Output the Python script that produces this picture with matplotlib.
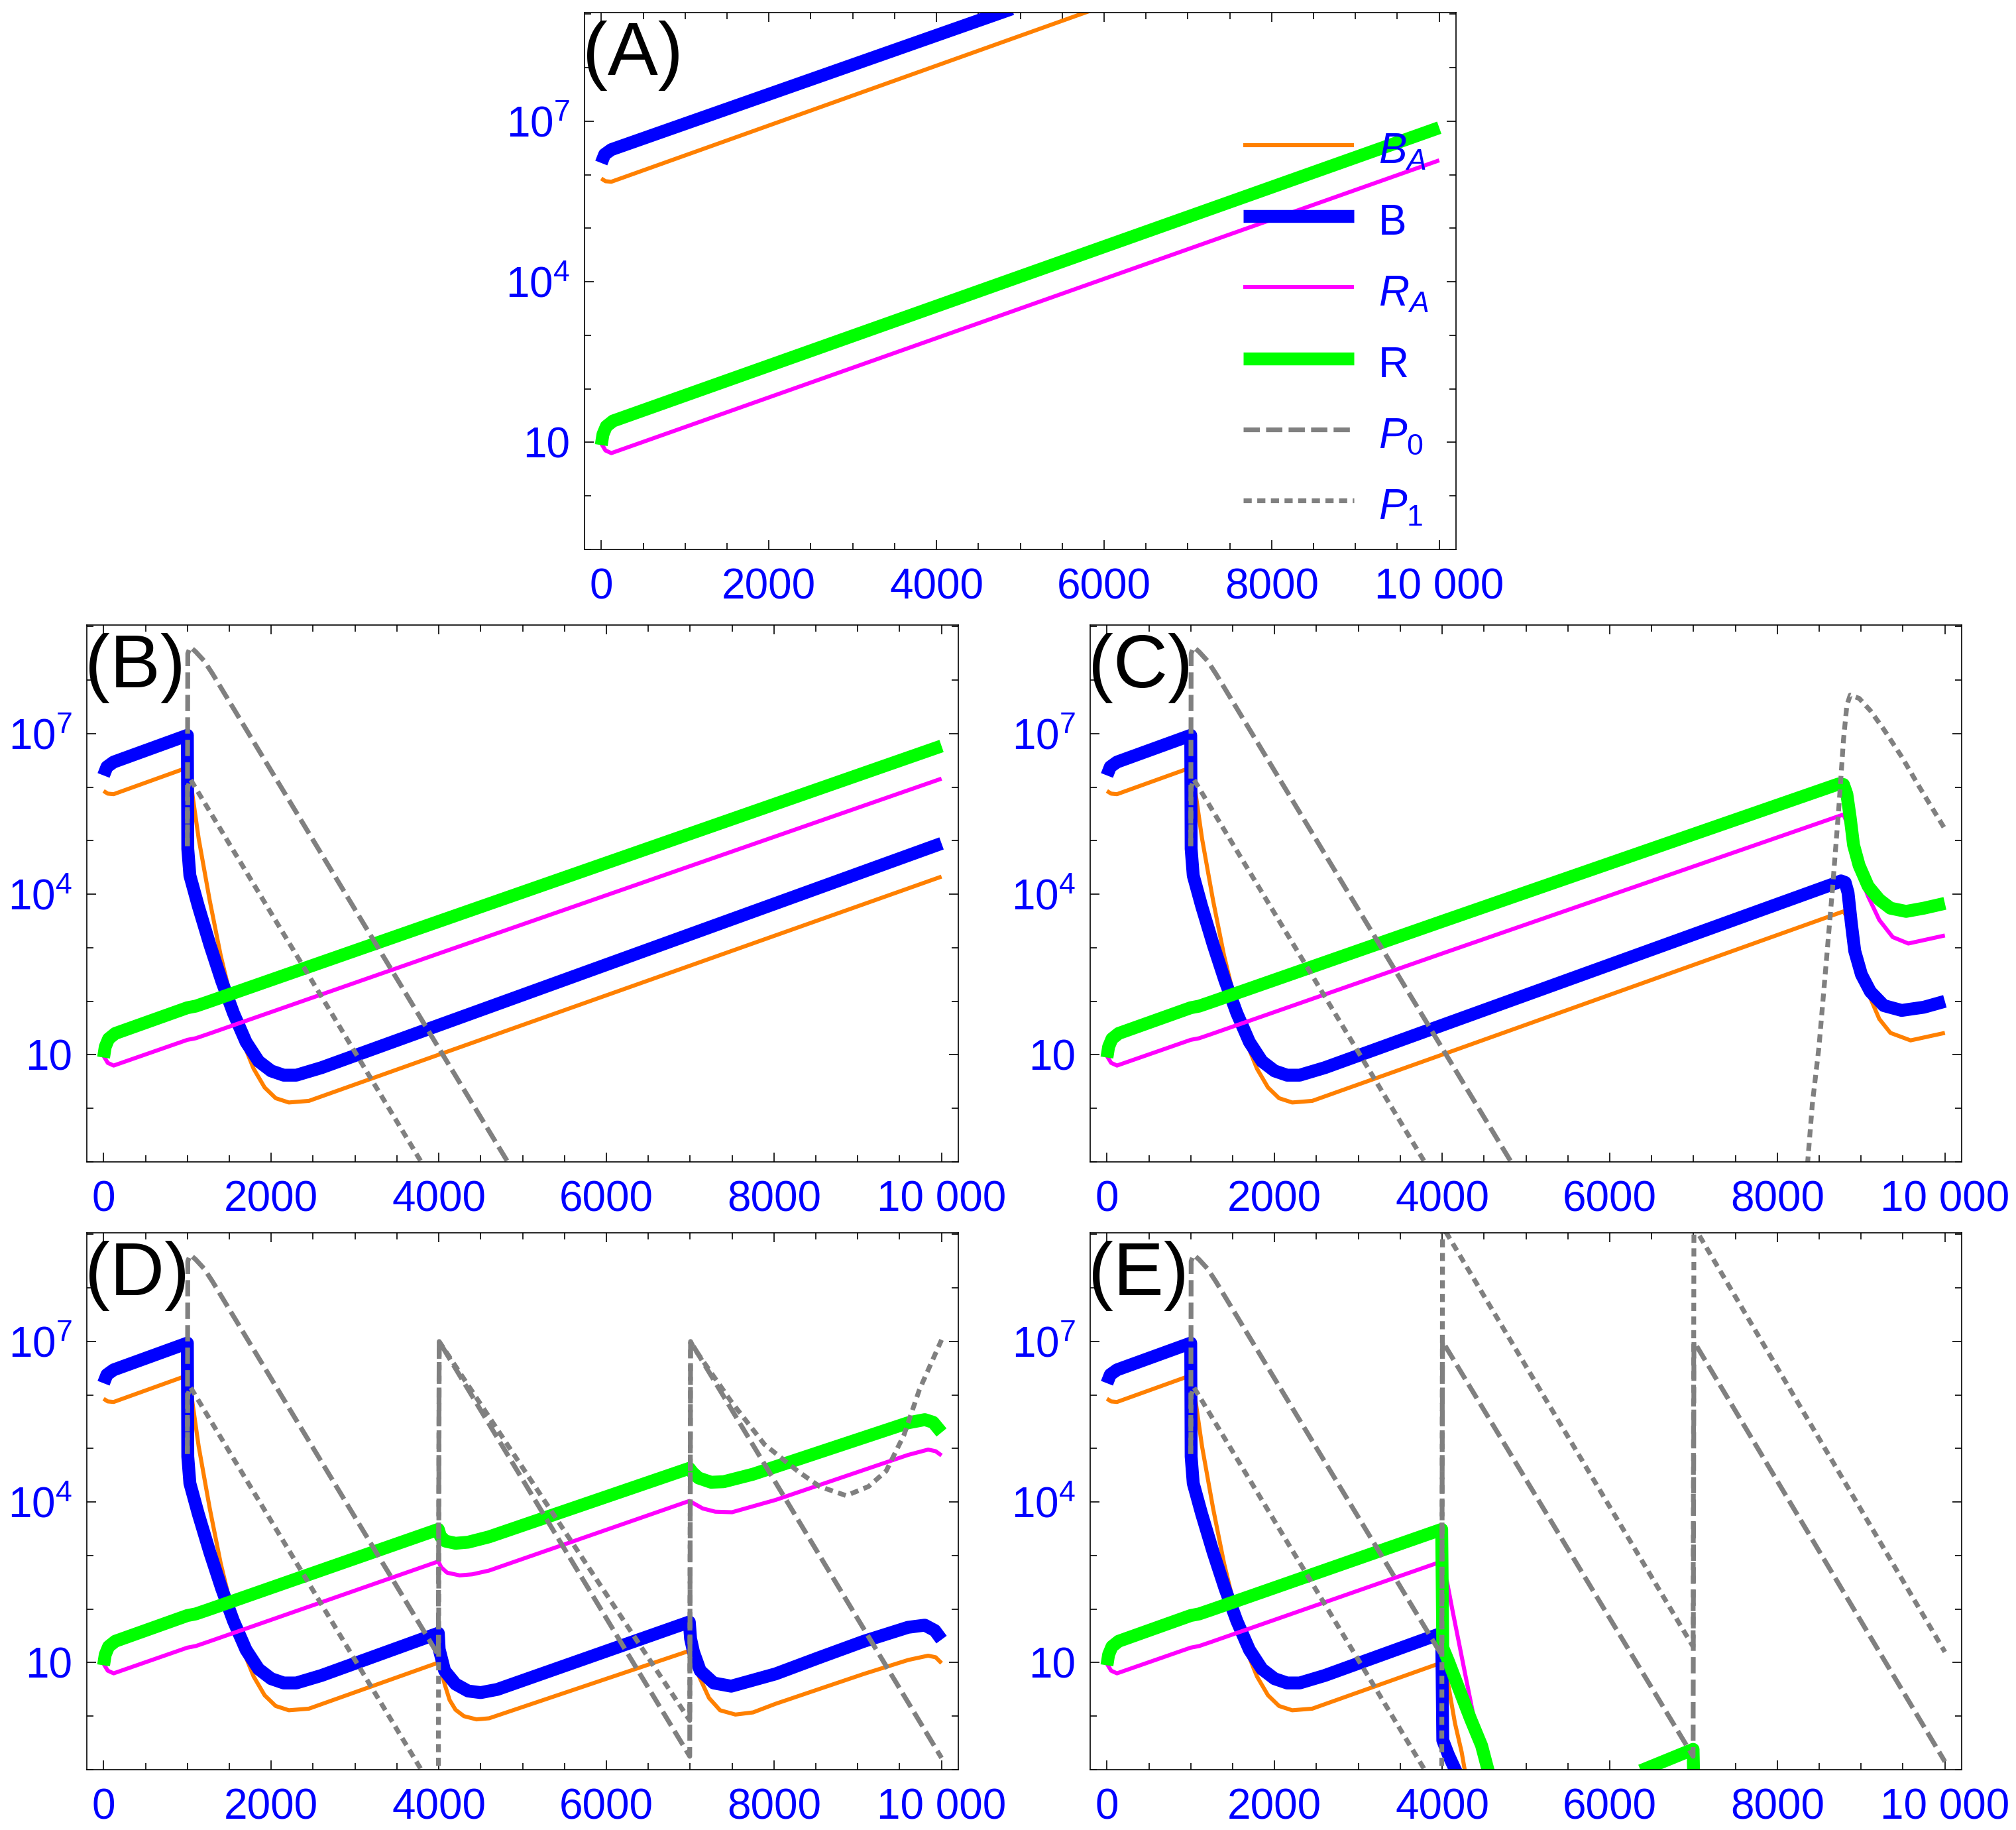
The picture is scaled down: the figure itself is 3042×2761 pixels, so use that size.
import numpy as np
import matplotlib
matplotlib.use("Agg")
import matplotlib.pyplot as plt
from matplotlib.lines import Line2D
from matplotlib.ticker import FixedLocator, NullFormatter

plt.rcParams['font.family'] = ['Liberation Sans', 'DejaVu Sans']
plt.rcParams['mathtext.fontset'] = 'custom'
plt.rcParams['mathtext.rm'] = 'Liberation Sans'
plt.rcParams['mathtext.it'] = 'Liberation Sans:italic'
plt.rcParams['mathtext.bf'] = 'Liberation Sans:bold'

# all values are log10 of the population
# ---- panel A: bacteria only
a_t_ba = [0, 50, 120, 5900]
a_ba = [5.93, 5.88, 5.87, 9.10]
a_t_b = [0, 40, 120, 4900]
a_b = [6.22, 6.38, 6.47, 9.10]
a_t_ra = [0, 50, 120, 10000]
a_ra = [0.98, 0.85, 0.80, 6.27]
a_t_r = [0, 20, 60, 140, 10000]
a_r = [0.95, 1.15, 1.30, 1.40, 6.88]

# ---- shared start of panels B-E (P0 added at t = 1000), up to t = 3995
pre_t_ba = [0, 50, 120, 990, 1043, 1135, 1266, 1397, 1529, 1660, 1791, 1922, 2054, 2211, 2450, 3995]
pre_ba = [5.93, 5.88, 5.87, 6.36, 6.05, 5.04, 3.89, 2.86, 2.00, 1.25, 0.74, 0.39, 0.19, 0.11, 0.14, 1.00]
pre_t_b = [0, 40, 120, 1000, 1005, 1030, 1130, 1270, 1410, 1550, 1700, 1850, 2000, 2150, 2300, 2600, 3995]
pre_b = [6.22, 6.38, 6.47, 6.97, 4.85, 4.35, 3.78, 3.05, 2.38, 1.78, 1.24, 0.88, 0.70, 0.62, 0.62, 0.76, 1.55]
pre_t_ra = [0, 50, 120, 1000, 1100, 1250, 3995]
pre_ra = [0.98, 0.85, 0.80, 1.28, 1.31, 1.39, 2.89]
pre_t_r = [0, 20, 60, 140, 1000, 1100, 1250, 3995]
pre_r = [0.95, 1.15, 1.30, 1.40, 1.88, 1.91, 1.99, 3.49]
pre_t_p0 = [1000, 1005, 1035, 1100, 1200, 1300, 3995]
pre_p0 = [4.90, 8.50, 8.62, 8.53, 8.36, 8.12, 1.14]
pre_t_p1 = [1000, 1005, 1035, 3810]
pre_p1 = [4.90, 6.00, 6.15, -1.05]

# ---- panel B: no further events
b_t_end = [10000]
b_ba_end = [4.33]
b_b_end = [4.95]
b_ra_end = [6.16]
b_r_end = [6.77]
b_t_p0_end = [4850]
b_p0_end = [-1.07]

# ---- panel C: P1 takes off near t = 8400
c_t_ba = [8790, 8840, 8900, 9000, 9097, 9217, 9350, 9590, 10000]
c_ba = [3.68, 3.55, 3.10, 2.50, 2.11, 1.67, 1.41, 1.27, 1.41]
c_t_b = [8700, 8760, 8810, 8844, 8884, 8924, 9004, 9111, 9271, 9484, 9749, 10000]
c_b = [4.21, 4.25, 4.22, 4.03, 3.45, 2.94, 2.50, 2.18, 1.92, 1.83, 1.89, 2.00]
c_t_ra = [8790, 8840, 8900, 9000, 9084, 9217, 9377, 9564, 10000]
c_ra = [5.49, 5.30, 4.80, 4.30, 3.96, 3.52, 3.20, 3.08, 3.23]
c_t_r = [8730, 8790, 8830, 8870, 8910, 8976, 9084, 9217, 9350, 9537, 9749, 10000]
c_r = [6.06, 6.05, 5.87, 5.43, 4.92, 4.54, 4.15, 3.90, 3.74, 3.68, 3.74, 3.83]
c_t_p1 = [np.nan, 8360, 8418, 8498, 8578, 8658, 8737, 8790, 8830, 8870, 8977, 9111, 9271, 9484, 9697, 10000]
c_p1 = [np.nan, -1.05, 0.08, 1.16, 2.62, 4.09, 5.68, 6.89, 7.53, 7.72, 7.66, 7.43, 7.08, 6.57, 6.00, 5.22]

# ---- panel D: P0 and P1 re-added at t = 4000 and t = 7000
d_t_ba = [4030, 4070, 4130, 4200, 4300, 4450, 4600, 6990, 7030, 7093, 7225, 7357, 7540, 7750, 8018,
          8546, 9075, 9603, 9840, 9930, 10000]
d_ba = [0.85, 0.60, 0.30, 0.12, 0.00, -0.06, -0.04, 1.22, 1.05, 0.79, 0.34, 0.11, 0.03, 0.07, 0.23,
        0.51, 0.79, 1.05, 1.13, 1.10, 0.99]
d_t_b = [4005, 4070, 4200, 4350, 4500, 4700, 6990, 7005, 7040, 7120, 7280, 7490, 8020, 8550, 9075,
         9600, 9800, 9920, 10000]
d_b = [1.25, 0.85, 0.60, 0.47, 0.44, 0.50, 1.76, 1.45, 1.20, 0.85, 0.62, 0.56, 0.79, 1.10, 1.40,
       1.66, 1.70, 1.60, 1.43]
d_t_ra = [4030, 4100, 4250, 4400, 4600, 6990, 7060, 7150, 7300, 7500, 8020, 9600, 9840, 9930, 10000]
d_ra = [2.78, 2.68, 2.63, 2.65, 2.72, 4.02, 3.96, 3.88, 3.82, 3.81, 4.04, 4.88, 4.98, 4.95, 4.87]
d_t_r = [4020, 4080, 4200, 4350, 4600, 6990, 7030, 7100, 7250, 7400, 7750, 9600, 9800, 9900, 10000]
d_r = [3.36, 3.27, 3.23, 3.25, 3.35, 4.63, 4.55, 4.45, 4.37, 4.38, 4.52, 5.48, 5.54, 5.49, 5.30]
d_t_p0 = [4005, 6995, 7005, 10000]
d_p0 = [7.00, -0.75, 7.00, -0.78]
d_t_p1 = [3995, 4005, 6995, 7005, 7040, 7489, 7885, 8282, 8546, 8863, 9128, 9339, 9551, 9736, 10000]
d_p1 = [-1.60, 7.00, -0.08, 7.00, 6.89, 5.88, 5.08, 4.58, 4.29, 4.12, 4.29, 4.58, 5.25, 6.10, 7.03]

# ---- panel E: larger P1 dose at t = 4000 and t = 7000
e_t_ba = [4010, 4061, 4153, 4233, 4275]
e_ba = [0.88, 0.70, -0.13, -0.67, -1.05]
e_t_b = [4008, 4074, 4180]
e_b = [-0.45, -0.72, -1.08]
e_t_ra = [4010, 4061, 4127, 4206, 4286, 4365, 4444, 4525]
e_ra = [2.75, 2.49, 1.95, 1.33, 0.70, 0.08, -0.47, -1.08]
e_t_r = [4008, 4074, 4206, 4339, 4471, 4555, np.nan, 6370, 6995, 7005]
e_r = [1.28, 1.03, 0.49, -0.05, -0.55, -1.05, np.nan, -1.02, -0.62, -1.40]
e_t_p0 = [4005, 6995, 7005, 10000]
e_p0 = [7.00, -0.75, 7.00, -0.85]
e_t_p1 = [3995, 4005, 6995, 7005, 10000]
e_p1 = [-1.60, 9.15, 1.30, 9.15, 1.20]

x_ticks = [0, 2000, 4000, 6000, 8000, 10000]
x_tick_labels = ['0', '2000', '4000', '6000', '8000', '10 000']
x_minor = list(range(0, 10001, 500))
y_ticks = [1e1, 1e4, 1e7]
y_tick_labels = ['10', r'$\mathregular{10^{4}}$', r'$\mathregular{10^{7}}$']
y_minor = [10.0 ** k for k in range(-1, 10)]

legend_keys = ['ba', 'b', 'ra', 'r', 'p0', 'p1']
legend_labels = [r'$B_A$', 'B', r'$R_A$', 'R', r'$P_0$', r'$P_1$']

styles = {
    'ba': dict(color='#ff8000', lw=4.4),
    'b': dict(color='#0000ff', lw=14),
    'ra': dict(color='#ff00ff', lw=4.4),
    'r': dict(color='#00ff00', lw=14),
    'p0': dict(color='#808080', lw=5.2, dashes=(3.4, 1.3)),
    'p1': dict(color='#808080', lw=5.2, dashes=(1.7, 1.15)),
}


def draw(ax, series):
    for key in legend_keys:
        if key not in series:
            continue
        t, v = series[key]
        ax.plot(t, 10.0 ** np.asarray(v, dtype=float), solid_capstyle='butt',
                solid_joinstyle='round', **styles[key])


def frame(ax, label):
    ax.set_yscale('log')
    ax.set_xlim(-200, 10200)
    ax.set_ylim(10 ** -1, 10 ** 9.03)
    ax.xaxis.set_major_locator(FixedLocator(x_ticks))
    ax.set_xticklabels(x_tick_labels)
    ax.xaxis.set_minor_locator(FixedLocator(x_minor))
    ax.yaxis.set_major_locator(FixedLocator(y_ticks))
    ax.set_yticklabels(y_tick_labels)
    ax.yaxis.set_minor_locator(FixedLocator(y_minor))
    ax.yaxis.set_minor_formatter(NullFormatter())
    ax.tick_params(which='both', direction='in', top=True, right=True, color='black', width=1.2)
    ax.tick_params(which='major', length=10, labelsize=46, labelcolor='blue')
    ax.tick_params(which='minor', length=7)
    ax.tick_params(axis='x', which='major', pad=20)
    ax.tick_params(axis='y', which='major', pad=16)
    for s in ax.spines.values():
        s.set_linewidth(1.2)
    ax.text(-0.002, 0.985, label, transform=ax.transAxes, ha='left', va='top', fontsize=82, color='black')


W, H = 3042, 2761
fig = plt.figure(figsize=(W / 100, H / 100), dpi=100)


def add_axes(left, top, w=1315, h=810):
    return fig.add_axes([left / W, (H - top - h) / H, w / W, h / H])


axA = add_axes(882, 19)
axB = add_axes(131, 943)
axC = add_axes(1645, 943)
axD = add_axes(131, 1860)
axE = add_axes(1645, 1860)

draw(axA, {'ba': (a_t_ba, a_ba), 'b': (a_t_b, a_b), 'ra': (a_t_ra, a_ra), 'r': (a_t_r, a_r)})

draw(axB, {'ba': (pre_t_ba + b_t_end, pre_ba + b_ba_end),
           'b': (pre_t_b + b_t_end, pre_b + b_b_end),
           'ra': (pre_t_ra + b_t_end, pre_ra + b_ra_end),
           'r': (pre_t_r + b_t_end, pre_r + b_r_end),
           'p0': (pre_t_p0 + b_t_p0_end, pre_p0 + b_p0_end),
           'p1': (pre_t_p1, pre_p1)})

draw(axC, {'ba': (pre_t_ba + c_t_ba, pre_ba + c_ba),
           'b': (pre_t_b + c_t_b, pre_b + c_b),
           'ra': (pre_t_ra + c_t_ra, pre_ra + c_ra),
           'r': (pre_t_r + c_t_r, pre_r + c_r),
           'p0': (pre_t_p0 + b_t_p0_end, pre_p0 + b_p0_end),
           'p1': (pre_t_p1 + c_t_p1, pre_p1 + c_p1)})

draw(axD, {'ba': (pre_t_ba + d_t_ba, pre_ba + d_ba),
           'b': (pre_t_b + d_t_b, pre_b + d_b),
           'ra': (pre_t_ra + d_t_ra, pre_ra + d_ra),
           'r': (pre_t_r + d_t_r, pre_r + d_r),
           'p0': (pre_t_p0 + d_t_p0, pre_p0 + d_p0),
           'p1': (pre_t_p1 + d_t_p1, pre_p1 + d_p1)})

draw(axE, {'ba': (pre_t_ba + e_t_ba, pre_ba + e_ba),
           'b': (pre_t_b + e_t_b, pre_b + e_b),
           'ra': (pre_t_ra + e_t_ra, pre_ra + e_ra),
           'r': (pre_t_r + e_t_r, pre_r + e_r),
           'p0': (pre_t_p0 + e_t_p0, pre_p0 + e_p0),
           'p1': (pre_t_p1 + e_t_p1, pre_p1 + e_p1)})

for ax, lab in zip([axA, axB, axC, axD, axE], ['(A)', '(B)', '(C)', '(D)', '(E)']):
    frame(ax, lab)

handles = [Line2D([], [], solid_capstyle='butt', **styles[k]) for k in legend_keys]
axA.legend(handles, legend_labels, loc='upper left', bbox_to_anchor=(0.756, 0.788),
           frameon=False, fontsize=46, labelcolor='blue', handlelength=2.61,
           handletextpad=0.58, handleheight=1.3, labelspacing=0.59,
           borderpad=0, borderaxespad=0)

fig.savefig('out.png', dpi=100)
